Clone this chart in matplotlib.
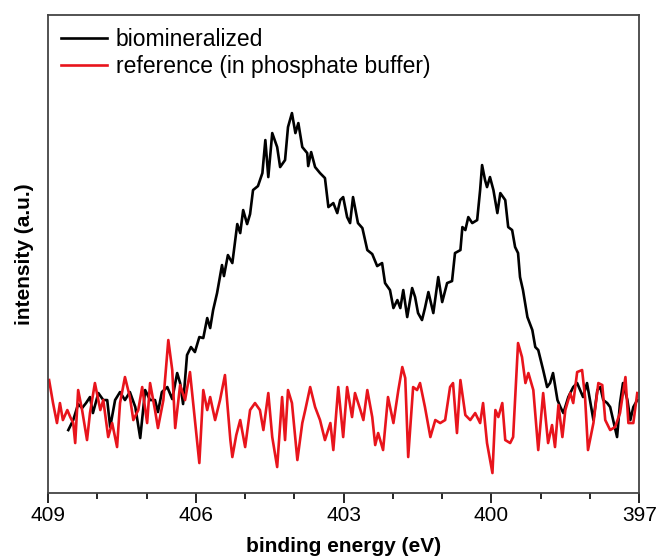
import matplotlib.pyplot as plt
from matplotlib.ticker import FixedLocator

plt.rcParams['font.family'] = ['Liberation Sans', 'DejaVu Sans']

# binding energy (eV) and intensity (a.u.)
bio_energy = [408.59, 408.49, 408.39, 408.31, 408.23, 408.15, 408.09, 407.98, 407.88, 407.80,
              407.74, 407.64, 407.54, 407.44, 407.34, 407.23, 407.13, 407.03, 406.93, 406.83,
              406.77, 406.69, 406.58, 406.48, 406.38, 406.32, 406.26, 406.18, 406.10, 406.02,
              405.93, 405.85, 405.77, 405.71, 405.65, 405.57, 405.47, 405.43, 405.35, 405.26,
              405.16, 405.10, 405.04, 404.96, 404.90, 404.84, 404.74, 404.65, 404.59, 404.53,
              404.45, 404.35, 404.29, 404.19, 404.13, 404.05, 403.98, 403.92, 403.84, 403.74,
              403.72, 403.66, 403.58, 403.48, 403.38, 403.31, 403.21, 403.13, 403.07, 403.01,
              402.93, 402.87, 402.81, 402.71, 402.62, 402.52, 402.42, 402.32, 402.22, 402.16,
              402.06, 401.99, 401.91, 401.85, 401.79, 401.71, 401.61, 401.55, 401.49, 401.41,
              401.35, 401.28, 401.18, 401.08, 401.00, 400.90, 400.80, 400.74, 400.63, 400.59,
              400.53, 400.47, 400.39, 400.29, 400.23, 400.19, 400.13, 400.09, 400.03, 399.96,
              399.88, 399.82, 399.72, 399.66, 399.58, 399.52, 399.46, 399.42, 399.36, 399.27,
              399.17, 399.11, 399.05, 398.95, 398.87, 398.81, 398.75, 398.66, 398.60, 398.54,
              398.44, 398.34, 398.26, 398.20, 398.14, 398.06, 397.99, 397.93, 397.85, 397.79,
              397.73, 397.65, 397.59, 397.53, 397.45, 397.39, 397.33, 397.24, 397.18, 397.12,
              397.04]
bio_intensity = [63, 73, 89, 85, 90, 96, 80, 100, 93, 93,
                 66, 93, 101, 93, 101, 86, 55, 103, 93, 93,
                 81, 101, 106, 94, 120, 110, 89, 138, 146, 141,
                 156, 155, 175, 165, 183, 200, 228, 217, 238, 230,
                 269, 260, 283, 269, 279, 303, 307, 320, 353, 316,
                 360, 346, 326, 333, 366, 380, 360, 370, 346, 340,
                 327, 341, 326, 320, 315, 286, 290, 280, 293, 296,
                 276, 270, 296, 270, 265, 243, 239, 227, 230, 210,
                 203, 185, 193, 185, 203, 176, 205, 196, 180, 173,
                 185, 201, 180, 216, 191, 210, 212, 240, 243, 266,
                 263, 276, 270, 273, 303, 328, 313, 306, 316, 303,
                 280, 300, 293, 266, 263, 246, 240, 216, 203, 176,
                 163, 146, 143, 123, 106, 110, 120, 93, 86, 80,
                 96, 106, 110, 103, 96, 110, 90, 73, 103, 106,
                 93, 90, 86, 73, 56, 90, 110, 93, 73, 86,
                 93]

ref_energy = [408.98, 408.90, 408.82, 408.76, 408.70, 408.61, 408.55, 408.49, 408.45, 408.39,
              408.31, 408.21, 408.15, 408.05, 407.94, 407.88, 407.78, 407.70, 407.60, 407.54,
              407.44, 407.34, 407.27, 407.17, 407.09, 406.99, 406.93, 406.83, 406.77, 406.66,
              406.56, 406.48, 406.42, 406.32, 406.22, 406.12, 406.02, 405.93, 405.85, 405.77,
              405.71, 405.61, 405.51, 405.41, 405.30, 405.26, 405.18, 405.10, 405.00, 404.90,
              404.80, 404.70, 404.63, 404.53, 404.45, 404.35, 404.25, 404.19, 404.13, 404.05,
              403.94, 403.84, 403.78, 403.68, 403.58, 403.48, 403.38, 403.27, 403.21, 403.11,
              403.01, 402.93, 402.83, 402.77, 402.66, 402.60, 402.52, 402.42, 402.36, 402.30,
              402.20, 402.10, 401.99, 401.89, 401.81, 401.75, 401.69, 401.59, 401.51, 401.45,
              401.35, 401.24, 401.14, 401.04, 400.94, 400.84, 400.78, 400.70, 400.63, 400.53,
              400.43, 400.33, 400.23, 400.17, 400.09, 399.98, 399.92, 399.86, 399.78, 399.72,
              399.62, 399.56, 399.46, 399.38, 399.31, 399.25, 399.15, 399.05, 398.95, 398.85,
              398.77, 398.71, 398.64, 398.56, 398.50, 398.40, 398.34, 398.26, 398.16, 398.10,
              398.04, 397.93, 397.83, 397.75, 397.69, 397.59, 397.49, 397.39, 397.28, 397.22,
              397.12, 397.04]
ref_intensity = [113, 90, 70, 90, 73, 83, 76, 70, 50, 103,
                 83, 53, 80, 110, 83, 93, 56, 70, 46, 90,
                 116, 96, 73, 83, 106, 70, 110, 83, 65, 93,
                 153, 123, 65, 108, 93, 121, 73, 30, 103, 83,
                 96, 73, 93, 118, 53, 36, 58, 73, 46, 83,
                 90, 83, 63, 100, 56, 26, 96, 53, 103, 90,
                 33, 70, 83, 106, 86, 73, 53, 70, 43, 106,
                 56, 106, 76, 100, 83, 73, 103, 76, 48, 60,
                 43, 96, 70, 103, 126, 115, 36, 106, 103, 110,
                 86, 56, 73, 70, 73, 106, 110, 60, 113, 78,
                 73, 80, 70, 90, 50, 20, 83, 76, 90, 53,
                 50, 56, 150, 136, 110, 120, 103, 43, 100, 50,
                 68, 46, 88, 56, 83, 100, 90, 121, 123, 96,
                 43, 70, 110, 108, 73, 63, 66, 80, 116, 70,
                 70, 100]

major_ticks = [409, 406, 403, 400, 397]
minor_ticks = [408, 407, 405, 404, 402, 401, 399, 398]

fig = plt.figure(figsize=(6.59, 5.59), dpi=100)
ax = fig.add_axes([0.073, 0.118, 0.897, 0.855])

ax.plot(bio_energy, bio_intensity, color='black', lw=1.9, label='biomineralized')
ax.plot(ref_energy, ref_intensity, color='#e8141c', lw=1.9, label='reference (in phosphate buffer)')

ax.set_xlim(409, 397)
ax.set_ylim(0, 478)
ax.xaxis.set_major_locator(FixedLocator(major_ticks))
ax.xaxis.set_minor_locator(FixedLocator(minor_ticks))
ax.tick_params(axis='x', which='major', direction='out', length=7, width=1.2, labelsize=15, pad=2)
ax.tick_params(axis='x', which='minor', direction='out', length=4, width=1.2)
ax.set_yticks([])
for s in ax.spines.values():
    s.set_linewidth(1.3)
    s.set_color('#444444')

ax.set_xlabel('binding energy (eV)', fontsize=15, fontweight='bold', labelpad=9)
ax.set_ylabel('intensity (a.u.)', fontsize=15, fontweight='bold', labelpad=10)

ax.legend(loc='upper left', frameon=False, fontsize=16.5, handlelength=2.0,
          handletextpad=0.4, labelspacing=0.2, borderaxespad=0.15)

fig.savefig('out.png', dpi=100)
